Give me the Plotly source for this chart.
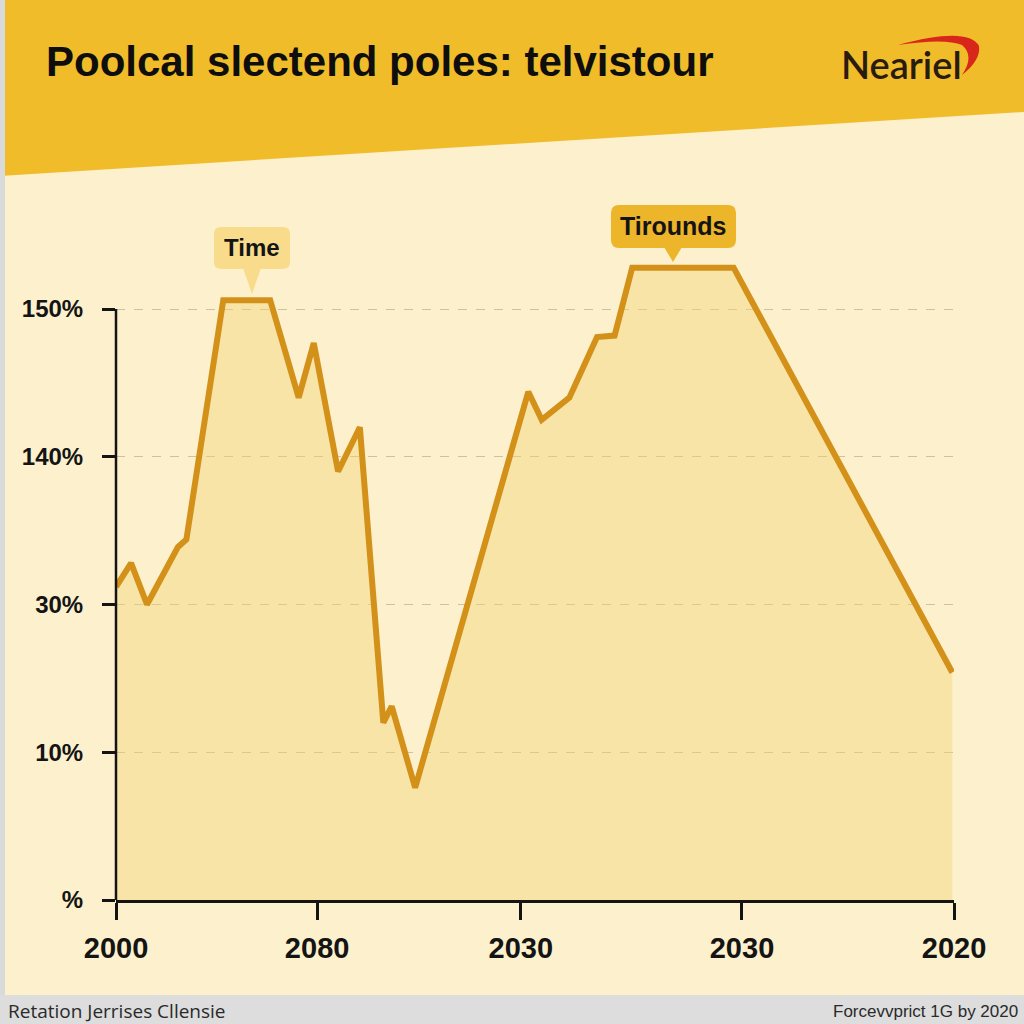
import plotly.graph_objects as go

# ---------------- data ----------------
x_vals = [0, 1.8, 3.7, 7.4, 8.4, 12.8, 18.4, 21.8, 23.6, 26.5, 29.1, 31.9, 32.9, 35.7,
          49.2, 50.8, 54.1, 57.4, 59.5, 61.6, 73.7, 99.8]
y_vals = [2.12, 2.28, 2.00, 2.39, 2.44, 4.06, 4.06, 3.40, 3.77, 2.90, 3.20, 1.20, 1.31, 0.76,
          3.44, 3.25, 3.40, 3.81, 3.82, 4.28, 4.28, 1.54]
x_tickvals = [0, 24.0, 48.3, 74.7, 100]
x_ticktext = ["2000", "2080", "2030", "2030", "2020"]
y_tickvals = [0, 1, 2, 3, 4]
y_ticktext = ["%", "10%", "30%", "140%", "150%"]

title_text = "Poolcal slectend poles: telvistour"
logo_text = "Neariel"
callout1 = "Time"
callout2 = "Tirounds"
footer_left = "Retation Jerrises Cllensie"
footer_right = "Forcevvprict 1G by 2020"

# ---------------- layout geometry ----------------
W, H = 1024, 1024
L, R, T, B = 116, 954, 240, 900
UNIT = 147.75
YMAX = (B - T) / UNIT

def px(x):
    return (x - L) / (R - L)

def py(y):
    return (B - y) / (B - T)

def path(cmds):
    out = []
    for c in cmds:
        if isinstance(c, str):
            out.append(c)
        else:
            out.append(f"{px(c[0]):.5f},{py(c[1]):.5f}")
    return " ".join(out)

def rrect(x0, y0, x1, y1, r):
    return path(["M", (x0 + r, y0), "L", (x1 - r, y0), "Q", (x1, y0), (x1, y0 + r),
                 "L", (x1, y1 - r), "Q", (x1, y1), (x1 - r, y1),
                 "L", (x0 + r, y1), "Q", (x0, y1), (x0, y1 - r),
                 "L", (x0, y0 + r), "Q", (x0, y0), (x0 + r, y0), "Z"])

BG = "#FCF0CD"
LINE = "#D3911A"
INK = "#141414"

fig = go.Figure()
fig.add_trace(go.Scatter(
    x=x_vals, y=y_vals, mode="lines",
    line=dict(color=LINE, width=6),
    fill="tozeroy", fillcolor="rgba(245,210,112,0.40)",
    hoverinfo="skip", showlegend=False,
))

shapes = []
# header band
shapes.append(dict(type="path", xref="paper", yref="paper", layer="below",
                   path=path(["M", (0, 0), "L", (W, 0), "L", (W, 112), "L", (0, 176), "Z"]),
                   fillcolor="#F0BC2A", line=dict(width=0)))
# left gray strip
shapes.append(dict(type="rect", xref="paper", yref="paper", layer="below",
                   x0=px(0), x1=px(5), y0=py(W), y1=py(0),
                   fillcolor="#D8DADB", line=dict(width=0)))
# bottom gray band
shapes.append(dict(type="rect", xref="paper", yref="paper", layer="below",
                   x0=px(0), x1=px(W), y0=py(H), y1=py(995),
                   fillcolor="#DCDDDC", line=dict(width=0)))
# y axis line (from 0 to top tick)
shapes.append(dict(type="line", xref="paper", yref="paper", layer="above",
                   x0=0, x1=0, y0=0, y1=4 / YMAX,
                   line=dict(color=INK, width=2.5)))
# callout 1
shapes.append(dict(type="path", xref="paper", yref="paper", layer="above",
                   path=rrect(214, 227, 290, 269, 7), fillcolor="#F8DC8C", line=dict(width=0)))
shapes.append(dict(type="path", xref="paper", yref="paper", layer="above",
                   path=path(["M", (243, 268), "L", (261, 268), "L", (252, 294), "Z"]),
                   fillcolor="#F8DC8C", line=dict(width=0)))
# callout 2
shapes.append(dict(type="path", xref="paper", yref="paper", layer="above",
                   path=rrect(611, 205, 736, 248, 8), fillcolor="#EDB52A", line=dict(width=0)))
shapes.append(dict(type="path", xref="paper", yref="paper", layer="above",
                   path=path(["M", (664, 247), "L", (682, 247), "L", (673, 262), "Z"]),
                   fillcolor="#EDB52A", line=dict(width=0)))
# logo swoosh
shapes.append(dict(type="path", xref="paper", yref="paper", layer="above",
                   path=path(["M", (898, 45), "Q", (968, 26), (979, 46),
                              "Q", (981, 60), (962, 75),
                              "Q", (975, 56), (962, 45),
                              "Q", (945, 38), (898, 45), "Z"]),
                   fillcolor="#D8261B", line=dict(width=0)))

annotations = [
    dict(text=f"<b>{title_text}</b>", x=px(44), y=py(62), xref="paper", yref="paper",
         xanchor="left", yanchor="middle", showarrow=False,
         font=dict(family="Liberation Sans, Arial", size=42, color="#0E0E0E")),
    dict(text=logo_text, x=px(901), y=py(64), xref="paper", yref="paper",
         xanchor="center", yanchor="middle", showarrow=False,
         font=dict(family="Lato, Liberation Sans, Arial", size=38, color="#2A1B10", weight=600)),
    dict(text=f"<b>{callout1}</b>", x=px(252), y=py(248), xref="paper", yref="paper",
         xanchor="center", yanchor="middle", showarrow=False,
         font=dict(family="Liberation Sans, Arial", size=24, color=INK)),
    dict(text=f"<b>{callout2}</b>", x=px(673), y=py(226), xref="paper", yref="paper",
         xanchor="center", yanchor="middle", showarrow=False,
         font=dict(family="Liberation Sans, Arial", size=25, color=INK)),
    dict(text=footer_left, x=px(6), y=py(1011), xref="paper", yref="paper",
         xanchor="left", yanchor="middle", showarrow=False,
         font=dict(family="Open Sans, Liberation Sans", size=19, color="#2A2A2A")),
    dict(text=footer_right, x=px(1020), y=py(1011), xref="paper", yref="paper",
         xanchor="right", yanchor="middle", showarrow=False,
         font=dict(family="Liberation Sans, Arial", size=17, color="#2A2A2A")),
]

fig.update_layout(
    width=W, height=H,
    margin=dict(l=L, r=W - R, t=T, b=H - B, pad=0),
    paper_bgcolor=BG, plot_bgcolor=BG,
    shapes=shapes, annotations=annotations,
    showlegend=False,
    xaxis=dict(range=[0, 100], tickvals=x_tickvals, ticktext=x_ticktext,
               showline=True, linecolor=INK, linewidth=2.5,
               ticks="outside", ticklen=17, tickwidth=2.5, tickcolor=INK,
               showgrid=False, zeroline=False, ticklabelstandoff=3,
               tickfont=dict(family="Liberation Sans, Arial", size=29, color=INK, weight="bold")),
    yaxis=dict(range=[0, YMAX], tickvals=y_tickvals, ticktext=y_ticktext,
               showline=False, ticks="outside", ticklen=13, tickwidth=2.5, tickcolor=INK,
               showgrid=True, gridcolor="rgba(150,135,110,0.45)", gridwidth=1, griddash="dash",
               zeroline=False, ticklabelstandoff=14,
               tickfont=dict(family="Liberation Sans, Arial", size=24, color=INK, weight="bold")),
)

fig.write_html("out.html")
